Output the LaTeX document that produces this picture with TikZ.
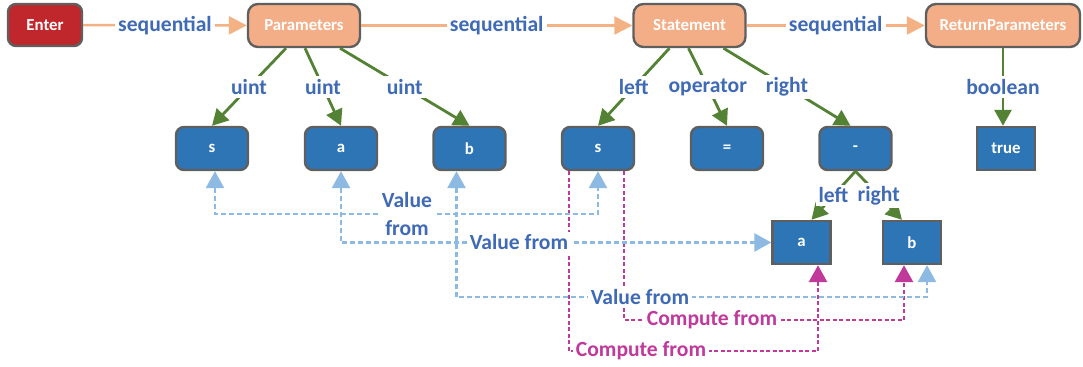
\documentclass[tikz,border=0pt]{standalone}
\usepackage{fontspec}
\setmainfont{Carlito}
\usetikzlibrary{arrows.meta,calc}
\definecolor{enterred}{HTML}{C0272D}
\definecolor{stepfill}{HTML}{F4AE87}
\definecolor{seqline}{HTML}{F4B183}
\definecolor{leaffill}{HTML}{2E75B6}
\definecolor{rimgray}{HTML}{5F5F5F}
\definecolor{treegreen}{HTML}{548235}
\definecolor{lblblue}{HTML}{3F6AB5}
\definecolor{valblue}{HTML}{8DBAE3}
\definecolor{compmag}{HTML}{C0399B}

\begin{document}
\begin{tikzpicture}[x=0.5pt,y=-0.5pt,
  box/.style={draw=rimgray,line width=1.2pt,text=white,inner sep=0pt,
    minimum height=21.5pt,font=\fontsize{8.4}{10}\selectfont\bfseries},
  stepbox/.style={box,fill=stepfill,rounded corners=5pt,minimum width=56pt},
  leaf/.style={box,fill=leaffill,rounded corners=4pt,minimum width=36pt},
  sqleaf/.style={box,fill=leaffill,minimum width=29pt},
  lbl/.style={fill=white,inner sep=1.5pt,text=lblblue,
    font=\fontsize{10.8}{14}\selectfont\bfseries},
  clbl/.style={lbl,text=compmag},
  seq/.style={draw=seqline,line width=1.3pt,-{Triangle[length=9pt,width=9pt]}},
  tree/.style={draw=treegreen,line width=1.4pt,-{Triangle[length=8pt,width=8.5pt]}},
  val/.style={draw=valblue,line width=1.35pt,dash pattern=on 2.5pt off 1.5pt,
    {Triangle[length=8.5pt,width=9pt]}-{Triangle[length=8.5pt,width=9pt]}},
  comp/.style={draw=compmag,line width=1.45pt,dash pattern=on 2pt off 1.25pt,
    -{Triangle[length=8.5pt,width=9pt]}}]
  \useasboundingbox (0,0) rectangle (1083,367);
  \node[box,fill=enterred,rounded corners=4pt,minimum width=37pt,minimum height=21pt] (enter) at (45,25) {Enter};
  \node[stepbox] (par) at (304,25.5) {Parameters};
  \node[stepbox] (stm) at (689.5,25.5) {Statement};
  \node[stepbox,minimum width=77pt] (ret) at (1003,25.5) {ReturnParameters};
  \node[leaf] (s1) at (212,148.5) {s};
  \node[leaf] (a1) at (341,148.5) {a};
  \node[leaf] (b1) at (469.5,148.5) {b};
  \node[leaf] (s2) at (598,148.5) {s};
  \node[leaf] (eq) at (727,148.5) {=};
  \node[leaf] (minus) at (855.5,148.5) {-};
  \node[sqleaf] (true) at (1006,148.5) {true};
  \node[sqleaf] (a2) at (801.5,242.5) {a};
  \node[sqleaf] (b2) at (912,242.5) {b};
  \coordinate (v1) at (407,214);
  \coordinate (v2) at (519,242.5);
  \coordinate (v3) at (640,297);
  \coordinate (c1) at (712,320);
  \coordinate (c2) at (641,351);
  \draw[seq] (enter) -- node[lbl] {sequential} (par);
  \draw[seq] (par) -- node[lbl] {sequential} (stm);
  \draw[seq] (stm) -- node[lbl] {sequential} (ret);
  \draw[tree] ($(par.south)+(-18,0)$) -- node[lbl] {uint} (s1.north);
  \draw[tree] ($(par.south)+(1,0)$) -- node[lbl] {uint} (a1.north);
  \draw[tree] ($(par.south)+(36,0)$) -- node[lbl] {uint} (b1.north);
  \draw[tree] ($(stm.south)+(-20,0)$) -- node[lbl] {left} (s2.north);
  \draw[tree] ($(stm.south)+(-1,0)$) -- node[lbl] {operator} (eq.north);
  \draw[tree] ($(stm.south)+(34,0)$) -- node[lbl] {right} ($(minus.north)+(-5,0)$);
  \draw[tree] (ret.south) -- node[lbl] {boolean} (ret.south |- true.north);
  \draw[tree] (minus.south) -- node[lbl] {left} ($(a2.north)+(10,0)$);
  \draw[tree] (minus.south) -- node[lbl] {right} ($(b2.north)+(-10,0)$);
  \draw[comp] ($(s2.south)+(26,0)$) |- (c1) -| ($(b2.south)+(-8,0)$);
  \draw[comp] ($(s2.south)+(-29,0)$) |- (c2) -| ($(a2.south)+(16.5,0)$);
  \draw[val] ($(s1.south)+(3,0)$) |- (v1) -| (s2.south);
  \draw[val] (a1.south) |- (a2.west);
  \draw[val] ($(b1.south)+(-13,0)$) |- (v3) -| ($(b2.south)+(15,0)$);
  \node[lbl,align=center] (vl1) at (v1) {Value\\from};
  \node[lbl] (vl2) at (v2) {Value from};
  \node[lbl] (vl3) at (v3) {Value from};
  \node[clbl] (cl1) at (c1) {Compute from};
  \node[clbl] (cl2) at (c2) {Compute from};
\end{tikzpicture}
\end{document}
